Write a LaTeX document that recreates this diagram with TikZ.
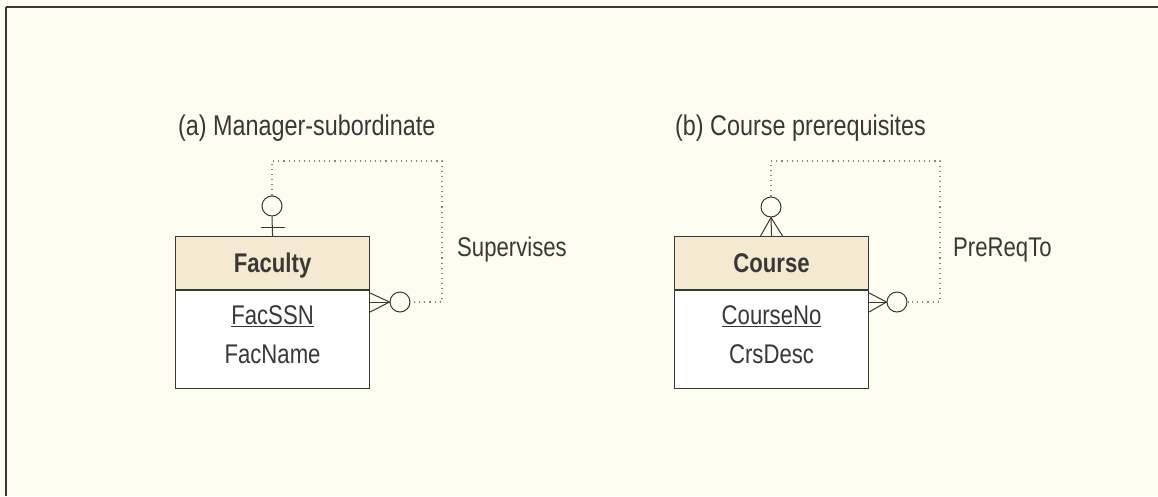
\documentclass[tikz,border=0pt]{standalone}
\usepackage{fontspec}
\setmainfont[FakeStretch=0.82]{Liberation Sans}
\usetikzlibrary{positioning,calc}
\definecolor{bgc}{HTML}{FEFDF1}
\definecolor{hdr}{HTML}{F4EAD2}
\definecolor{ink}{HTML}{3A3836}
\definecolor{dotc}{HTML}{8A8280}
\tikzset{
  lbl/.style={inner sep=0pt, text=ink, font=\fontsize{27}{31}\selectfont},
  ttl/.style={inner sep=0pt, text=ink, anchor=west, font=\fontsize{28.5}{32}\selectfont},
  ehead/.style={draw=ink, line width=1.1pt, fill=hdr, minimum width=194pt, minimum height=53pt, inner sep=0pt, text depth=0pt, text=ink, font=\fontsize{27}{31}\selectfont\bfseries},
  ebody/.style={draw=ink, line width=1.1pt, fill=white, minimum width=194pt, minimum height=98pt, inner sep=0pt},
  opt/.style={circle, draw=ink, line width=1pt, fill=none, minimum size=20pt, inner sep=0pt},
  rel/.style={draw=dotc, line width=1.1pt, dash pattern=on 1.1pt off 4pt},
  edge/.style={draw=ink, line width=1pt},
}
\begin{document}
\begin{tikzpicture}[x=1pt,y=-1pt]
\fill[bgc] (0,0) rectangle (1158,496);
\useasboundingbox (0,0) rectangle (1158,496);
\draw[ink, line width=2pt] (6,7) -- (1158,7);
\draw[ink, line width=1.2pt] (6,7) -- (6,496);

% (a) Faculty
\node[ttl] (ta) at (178,128) {(a) Manager-subordinate};
\node[ehead, anchor=north west] (fh) at (175,236) {Faculty};
\node[ebody, anchor=north] (fb) at (fh.south) {};
\node[lbl] (fssn) at ($(fb.north)+(0,26)$) {\underline{FacSSN}};
\node[lbl] (fname) at ($(fb.north)+(0,64)$) {FacName};
\node[opt] (fc1) at (272,206) {};
\node[opt] (fc2) at (400,302) {};
\coordinate (fa1) at (272,161);
\coordinate (fa2) at (442,161);
\coordinate (fa3) at (442,302);
\draw[rel] (fc1.north) -- (fa1) -- (fa2) -- (fa3) -- (fc2.east);
\draw[edge] (fc1.south) -- (fh.north);
\draw[edge] ($(fh.north)+(-12,-9)$) -- ($(fh.north)+(12,-9)$);
\draw[edge] (fc2.west) -- (fh.east |- fc2.west);
\draw[edge] (fc2.west) -- ($(fh.east |- fc2.west)+(0,-9)$);
\draw[edge] (fc2.west) -- ($(fh.east |- fc2.west)+(0,10)$);
\node[lbl, anchor=west] (sup) at (457,250) {Supervises};

% (b) Course
\node[ttl] (tb) at (675,128) {(b) Course prerequisites};
\node[ehead, anchor=north west] (ch) at (674,236) {Course};
\node[ebody, anchor=north] (cb) at (ch.south) {};
\node[lbl] (cno) at ($(cb.north)+(0,26)$) {\underline{CourseNo}};
\node[lbl] (cdesc) at ($(cb.north)+(0,64)$) {CrsDesc};
\node[opt] (cc1) at (771,207) {};
\node[opt] (cc2) at (897,302) {};
\coordinate (ca1) at (771,161);
\coordinate (ca2) at (940,161);
\coordinate (ca3) at (940,302);
\draw[rel] (cc1.north) -- (ca1) -- (ca2) -- (ca3) -- (cc2.east);
\draw[edge] (cc1.south) -- (ch.north);
\draw[edge] (cc1.south) -- ($(ch.north)+(-11,0)$);
\draw[edge] (cc1.south) -- ($(ch.north)+(11,0)$);
\draw[edge] (cc2.west) -- (ch.east |- cc2.west);
\draw[edge] (cc2.west) -- ($(ch.east |- cc2.west)+(0,-9)$);
\draw[edge] (cc2.west) -- ($(ch.east |- cc2.west)+(0,10)$);
\node[lbl, anchor=west] (prq) at (953,250) {PreReqTo};
\end{tikzpicture}
\end{document}
